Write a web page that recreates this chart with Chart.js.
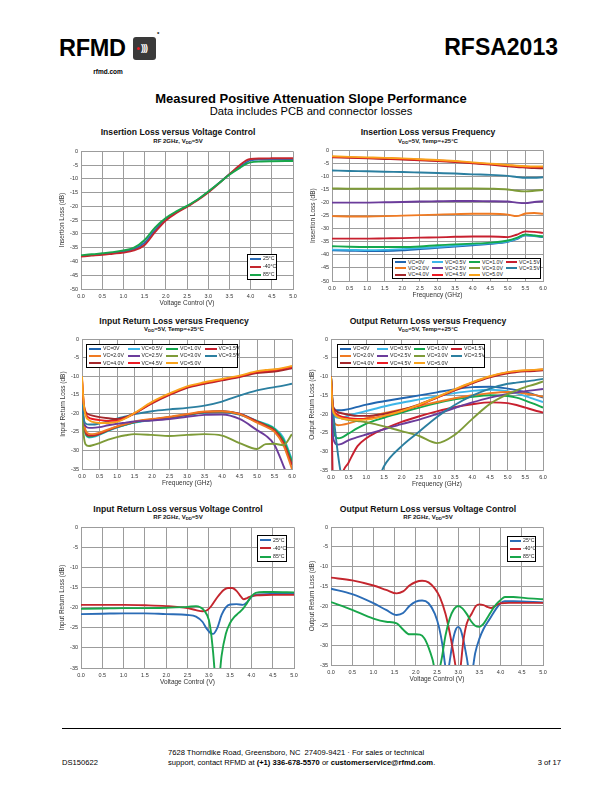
<!DOCTYPE html>
<html><head><meta charset="utf-8">
<script src="https://cdn.jsdelivr.net/npm/chart.js@4.4.1/dist/chart.umd.min.js"></script>
<style>
html,body{margin:0;padding:0}
body{width:612px;height:792px;position:relative;background:#fff;font-family:"Liberation Sans",Arial,sans-serif;color:#000;overflow:hidden}
.a{position:absolute;white-space:nowrap;line-height:1}
.c{position:absolute;white-space:nowrap;line-height:1;transform:translate(-50%,-50%)}
.ct{font-weight:bold;font-size:8.6px;color:#111}
.cs{font-weight:bold;font-size:6px;color:#111}
.cs sub{font-size:4.3px;vertical-align:-1px;line-height:0}
.leg{position:absolute;border:1px solid #000;background:#fff;box-sizing:border-box}
.li{position:absolute;font-size:5.2px;line-height:1;color:#222;white-space:nowrap;display:flex;align-items:center}
.li i{display:inline-block;height:2px;margin-right:2px}
canvas{position:absolute}
.ft{font-size:7.6px}
</style></head><body>

<div class="a" style="left:59px;top:37px;font-size:23.5px;font-weight:bold;letter-spacing:-0.3px">RFMD</div>
<div class="a" style="left:133px;top:37px;width:23px;height:23px;background:#3a3a3a;border-radius:3px;overflow:hidden">
  <div class="a" style="left:4px;top:10px;width:3px;height:3px;border-radius:50%;background:#e21b23"></div>
  <div class="a" style="left:8px;top:7px;font-size:9px;font-weight:bold;color:#fff;letter-spacing:-1px">)))</div>
</div>
<div class="a" style="left:157px;top:31px;font-size:6px;font-weight:bold">*</div>
<div class="c" style="left:108px;top:72px;font-size:6.5px;font-weight:bold">rfmd.com</div>
<div class="a" style="right:54px;top:36px;font-size:23px;font-weight:bold">RFSA2013</div>

<div class="c" style="left:311px;top:97.5px;font-size:13px;font-weight:bold">Measured Positive Attenuation Slope Performance</div>
<div class="c" style="left:311px;top:112px;font-size:11.2px">Data includes PCB and connector losses</div>

<div class="c ct" style="left:178px;top:132px">Insertion Loss versus Voltage Control</div>
<div class="c cs" style="left:178px;top:141px">RF 2GHz, V<sub>DD</sub>=5V</div>
<div class="c ct" style="left:428px;top:132px">Insertion Loss versus Frequency</div>
<div class="c cs" style="left:428px;top:141px">V<sub>DD</sub>=5V, Temp=+25°C</div>
<div class="c ct" style="left:174px;top:321px">Input Return Loss versus Frequency</div>
<div class="c cs" style="left:174px;top:329px">V<sub>DD</sub>=5V, Temp=+25°C</div>
<div class="c ct" style="left:428px;top:321px">Output Return Loss versus Frequency</div>
<div class="c cs" style="left:428px;top:329px">V<sub>DD</sub>=5V, Temp=+25°C</div>
<div class="c ct" style="left:178px;top:509px">Input Return Loss versus Voltage Control</div>
<div class="c cs" style="left:178px;top:517px">RF 2GHz, V<sub>DD</sub>=5V</div>
<div class="c ct" style="left:428px;top:509px">Output Return Loss versus Voltage Control</div>
<div class="c cs" style="left:428px;top:517px">RF 2GHz, V<sub>DD</sub>=5V</div>

<div class="a" style="left:62px;top:728px;width:499px;height:1.3px;background:#000"></div>
<div class="a ft" style="left:62px;top:759px">DS150622</div>
<div class="a ft" style="left:168px;top:749px">7628 Thorndike Road, Greensboro, NC&nbsp; 27409-9421 · For sales or technical</div>
<div class="a ft" style="left:168px;top:759px">support, contact RFMD at <b>(+1) 336-678-5570</b> or <b>customerservice@rfmd.com</b>.</div>
<div class="a ft" style="right:51px;top:759px">3 of 17</div>

<script>
// ---------- names / colours ----------
const tempNames = ['25°C', '-40°C', '85°C'];
const tempColors = ['#2b6cb6', '#c4262e', '#18a64a'];
const vcNames = ['VC=0V','VC=0.5V','VC=1.0V','VC=1.5V','VC=2.0V','VC=2.5V','VC=3.0V','VC=3.5V','VC=4.0V','VC=4.5V','VC=5.0V'];
const vcColors = ['#2166b0','#3db6e8','#15a84e','#c8202f','#f07a22','#6b3c9b','#7e9b38','#2b7fa0','#a3282c','#ec1c24','#f8a21c'];

// ---------- Chart 1: Insertion Loss vs Voltage Control ----------
const ilVc_x   = [0,0.25,0.5,0.75,1.0,1.25,1.5,1.75,2.0,2.25,2.5,2.75,3.0,3.25,3.5,3.75,3.9,4.0,4.25,4.5,5.0];
const ilVc_25  = [-38,-37.7,-37.3,-36.9,-36.4,-35.5,-33.2,-28.5,-24.7,-22.1,-20,-17.6,-14.8,-11.6,-8.3,-5.6,-4.0,-3.3,-3.0,-2.95,-2.9];
const ilVc_m40 = [-38.2,-37.9,-37.6,-37.2,-36.8,-36,-34,-29.3,-25.1,-22.4,-20.2,-17.8,-15,-11.7,-8.3,-5.0,-3.3,-2.8,-2.6,-2.55,-2.5];
const ilVc_85  = [-37.7,-37.4,-37,-36.6,-36,-35,-32.2,-27.6,-24.2,-21.8,-19.8,-17.5,-14.6,-11.6,-8.5,-6.0,-4.6,-4.0,-3.7,-3.6,-3.5];

// ---------- Chart 2: Insertion Loss vs Frequency ----------
const ilF_x  = [0,0.5,1,1.5,2,2.5,3,3.5,4,4.5,5,5.25,5.5,5.75,6];
const ilF_00 = [-38.3,-38.4,-38.5,-38.5,-38.3,-37.8,-37.3,-36.8,-36.3,-35.8,-35,-34,-32.5,-32.8,-33.2];
const ilF_05 = [-38,-38.1,-38.2,-38.1,-37.8,-37.4,-37,-36.5,-36,-35.5,-34.8,-33.8,-32.4,-32.7,-33];
const ilF_10 = [-36.7,-36.9,-37,-37,-37,-36.8,-36.3,-36,-35.7,-35.3,-34.5,-33.5,-32.2,-32.6,-33];
const ilF_15 = [-33.8,-33.8,-33.8,-33.7,-33.6,-33.4,-33.3,-33.1,-33,-33,-33.2,-32.3,-31,-31.2,-31.6];
const ilF_20 = [-25.2,-25.3,-25.3,-25.2,-25,-24.8,-24.6,-24.4,-24.3,-24.3,-24.6,-25.2,-24.2,-24,-24.3];
const ilF_25 = [-20,-20,-20,-19.9,-19.8,-19.6,-19.5,-19.4,-19.4,-19.5,-19.6,-20,-20.2,-19.8,-19.5];
const ilF_30 = [-14.6,-14.7,-14.7,-14.7,-14.7,-14.6,-14.6,-14.6,-14.6,-14.7,-15,-15.5,-15.7,-15.5,-15.2];
const ilF_35 = [-7.7,-7.9,-8,-8.2,-8.3,-8.5,-8.7,-8.9,-9.2,-9.4,-9.8,-10.2,-10.5,-10.5,-10.3];
const ilF_40 = [-2.7,-2.9,-3.1,-3.3,-3.5,-3.8,-4.1,-4.5,-5,-5.5,-6.1,-6.4,-6.6,-6.8,-6.9];
const ilF_45 = [-2.5,-2.7,-2.9,-3.1,-3.3,-3.6,-3.9,-4.3,-4.8,-5.3,-5.8,-6.1,-6.3,-6.4,-6.4];
const ilF_50 = [-2.3,-2.5,-2.7,-2.9,-3.1,-3.4,-3.7,-4.1,-4.6,-5.1,-5.6,-5.9,-6.1,-6.2,-6.2];

// ---------- Chart 3: Input Return Loss vs Frequency ----------
const rlF_x   = [0,0.05,0.1,0.2,0.3,0.5,0.75,1.0,1.25,1.5,2.0,2.5,3.0,3.5,4.0,4.5,5.0,5.25,5.5,5.75,6.0];
const irlF_00 = [-17,-22.5,-25,-26,-26,-25.5,-24.5,-23.7,-23,-22.4,-21.7,-21.1,-20.4,-19.8,-19.6,-20.3,-22.3,-23.2,-24.5,-27.5,-33.5];
const irlF_05 = [-17,-23,-25.5,-26.5,-26.4,-25.8,-24.7,-23.8,-23.1,-22.5,-21.8,-21.1,-20.4,-19.7,-19.5,-20.1,-22,-22.8,-24,-26.5,-32.5];
const irlF_10 = [-17,-22.8,-25.3,-26.3,-26.2,-25.6,-24.6,-23.7,-23,-22.4,-21.7,-21.1,-20.4,-19.7,-19.5,-20.2,-22.1,-23,-24.2,-27,-33];
const irlF_15 = [-17,-22.5,-25,-26,-26,-25.5,-24.5,-23.6,-22.9,-22.3,-21.6,-21,-20.3,-19.6,-19.4,-20.1,-22.2,-23.3,-24.6,-27.8,-34];
const irlF_20 = [-16,-21.5,-24.5,-25.5,-25.6,-25.2,-24.3,-23.5,-22.8,-22.2,-21.5,-20.9,-20.2,-19.5,-19.4,-20.2,-22.5,-23.6,-25,-28.5,-35];
const irlF_25 = [-19,-22.5,-23.4,-23.9,-23.9,-23.7,-23.2,-22.8,-22.5,-22.2,-21.9,-21.5,-20.9,-20.4,-20.3,-21.5,-24.5,-26,-28.5,-34,-40];
const irlF_30 = [-20,-26,-28.3,-28.8,-28.6,-28,-27.1,-26.4,-25.9,-25.6,-25.8,-26.1,-25.8,-25.6,-26,-28,-29.6,-28.3,-28.2,-28.6,-25.6];
const irlF_35 = [-16,-21.5,-22.7,-23,-23,-22.7,-22.1,-21.4,-20.8,-20.2,-19.4,-18.9,-18.5,-17.9,-16.8,-15.2,-13.8,-13.3,-12.9,-12.5,-12];
const irlF_40 = [-11,-17.5,-19.5,-20.3,-20.6,-21,-21.3,-21.5,-21,-20,-17.3,-15,-13.1,-12,-11.1,-10.2,-9.1,-8.9,-8.7,-8.3,-7.8];
const irlF_45 = [-10.5,-17.5,-20,-21.2,-21.5,-21.8,-22,-22,-21.2,-20,-17.1,-14.8,-12.9,-11.8,-10.9,-10,-8.8,-8.5,-8.3,-7.9,-7.5];
const irlF_50 = [-10,-17.5,-20.5,-21.8,-22.3,-22.6,-22.6,-22.3,-21.3,-19.9,-16.9,-14.6,-12.7,-11.6,-10.7,-9.8,-8.6,-8.3,-8.1,-7.7,-7.2];

// ---------- Chart 4: Output Return Loss vs Frequency ----------
const orlF_00 = [-10,-17.5,-18.7,-19,-19,-18.7,-18.1,-17.5,-17,-16.6,-15.8,-15,-14.2,-13.4,-12.8,-12.7,-13.2,-13.6,-14.2,-14.8,-15.6];
const orlF_05 = [-10,-19,-20.7,-21,-21,-20.4,-19.8,-19.2,-18.6,-18,-17,-16.1,-15.2,-14.4,-13.8,-13.5,-13.9,-14.5,-15.2,-16,-16.8];
const orlF_10 = [-10,-22,-25.5,-26.5,-26.3,-25.2,-23.8,-22.6,-21.7,-21,-19.6,-18.3,-17.1,-16.1,-15.4,-15,-15.2,-15.6,-16.4,-17.3,-18.3];
const orlF_15 = [-12,-38,-45,-45,-37,-33,-28.6,-26.5,-25.1,-24,-22.1,-20.6,-19.3,-18.2,-17.4,-16.9,-17.1,-17.6,-18.3,-19,-19.6];
const orlF_20 = [-10,-20,-22.5,-23,-22.9,-22.5,-21.8,-21.1,-20.4,-19.8,-18.8,-17.8,-16.8,-15.8,-15,-14.4,-14.1,-14.2,-14.5,-14.9,-15.4];
const orlF_25 = [-10,-25,-27.5,-28.2,-28,-27,-26.2,-25.5,-24.8,-24.1,-22.7,-21.5,-20,-18.4,-16.9,-15.6,-14.6,-14.2,-13.9,-13.6,-13.3];
const orlF_30 = [-10,-18.5,-20,-20.8,-21.2,-21.6,-21.9,-22.2,-22.7,-23.3,-24.6,-25.9,-27.8,-25.6,-21.3,-17.3,-14.7,-13.7,-12.8,-12.1,-11.3];
const orlF_35 = [-10,-18,-23,-31,-37,-44,-46,-44,-40,-34,-28.6,-24.7,-20.8,-17.6,-15.1,-13.2,-11.9,-11.6,-11.3,-11,-10.6];
const orlF_40 = [-10,-17.5,-18.8,-19.5,-19.8,-20.2,-20.5,-20.5,-20.3,-20,-18.9,-17.4,-15.6,-13.7,-11.8,-10.2,-9.1,-8.8,-8.6,-8.5,-8.3];
const orlF_45 = [-10,-18,-19.5,-20.3,-20.7,-21.1,-21.3,-21.3,-21,-20.5,-19.2,-17.6,-15.6,-13.5,-11.6,-10,-8.9,-8.6,-8.4,-8.3,-8.1];
const orlF_50 = [-10,-18.5,-20,-20.8,-21.2,-21.5,-21.6,-21.5,-21.1,-20.5,-19.2,-17.5,-15.5,-13.4,-11.5,-9.9,-8.8,-8.5,-8.3,-8.2,-8];

// ---------- Chart 5: Input Return Loss vs Voltage Control ----------
const irlVc_x25  = [0,0.5,1.0,1.5,2.0,2.5,2.7,2.85,2.95,3.05,3.1,3.2,3.3,3.4,3.5,3.65,3.8,3.9,4.0,4.2,4.5,5.0];
const irlVc_25   = [-21.6,-21.5,-21.4,-21.4,-21.6,-21.8,-22.2,-23.5,-25.2,-26.4,-26.5,-25,-21.8,-19.9,-19.2,-19.1,-19.3,-18.6,-17.3,-16.7,-16.6,-16.5];
const irlVc_xm40 = [0,0.5,1.0,1.5,2.0,2.5,2.7,2.85,2.95,3.05,3.2,3.35,3.45,3.55,3.65,3.75,3.82,3.9,4.0,4.2,4.5,5.0];
const irlVc_m40  = [-19.3,-19.3,-19.3,-19.4,-19.6,-20.1,-20.6,-20.9,-20.7,-19.7,-17.4,-15.6,-15.1,-15.1,-15.8,-17.2,-17.9,-17.6,-17.1,-16.9,-16.8,-16.8];
const irlVc_x85  = [0,0.5,1.0,1.5,2.0,2.5,2.7,2.8,2.9,3.0,3.05,3.1,3.15,3.2,3.25,3.3,3.4,3.5,3.6,3.7,3.8,3.9,4.0,4.1,4.3,4.5,5.0];
const irlVc_85   = [-20.3,-20.2,-20.1,-20.1,-20,-19.8,-19.6,-19.9,-20.8,-23,-26,-31,-37,-39,-37,-32,-26.5,-23.8,-22.3,-21.3,-20.3,-18.8,-17.2,-16.3,-16.1,-16.1,-16.2];

// ---------- Chart 6: Output Return Loss vs Voltage Control ----------
const orlVc_x25  = [0,0.5,1.0,1.3,1.55,1.7,1.85,2.0,2.15,2.3,2.45,2.55,2.63,2.7,2.75,2.8,2.88,2.95,3.0,3.05,3.12,3.2,3.27,3.33,3.4,3.5,3.6,3.75,3.9,4.0,4.1,4.3,5.0];
const orlVc_25   = [-15.6,-17,-19.3,-21,-22.3,-21.8,-20,-18.9,-18.6,-19.3,-22,-25.5,-30,-35.5,-37,-34,-28.5,-25.8,-25.3,-25.8,-28.5,-33,-37,-36.5,-32,-28.3,-25.8,-23.2,-20.6,-19.3,-18.8,-18.8,-19.1];
const orlVc_xm40 = [0,0.5,1.0,1.3,1.55,1.7,1.85,2.0,2.15,2.3,2.45,2.57,2.7,2.8,2.88,2.95,3.0,3.05,3.12,3.2,3.32,3.42,3.5,3.6,3.7,3.78,3.9,4.0,4.2,5.0];
const orlVc_m40  = [-12.8,-13.5,-14.8,-15.9,-16.8,-16.3,-14.8,-13.9,-13.6,-14,-15.6,-17.8,-22,-26.8,-31.5,-36,-38,-36,-29,-24.5,-21.9,-20,-19.6,-19.8,-20.3,-20.5,-19.8,-19.3,-19.2,-19.2];
const orlVc_x85  = [0,0.5,1.0,1.3,1.55,1.7,1.85,2.0,2.1,2.2,2.3,2.4,2.47,2.52,2.6,2.7,2.8,2.9,3.0,3.1,3.2,3.3,3.4,3.5,3.6,3.7,3.8,3.9,4.0,4.1,4.3,4.6,5.0];
const orlVc_85   = [-19,-21,-23.2,-24,-24.4,-26,-27.2,-27.2,-27.3,-28.2,-30.5,-33.8,-37,-37,-34,-27.5,-23.2,-20.8,-20,-20.6,-22,-23.8,-25,-25.3,-24.5,-22.8,-21,-19.5,-18.5,-17.7,-17.7,-18,-18.3];

// ---------- helpers ----------
const FF = '"Liberation Sans", Arial, sans-serif';
const GC = '#9c9c9c';
const YW = 24, PT = 6, PR = 10, XH = 20;

function plotChart(area, xMax, yMin, xTitle, yTitle, series) {
  const w = area.r - area.l + YW + PR, h = area.b - area.t + PT + XH;
  const cv = document.createElement('canvas');
  cv.width = w; cv.height = h;
  cv.style.left = (area.l - YW) + 'px'; cv.style.top = (area.t - PT) + 'px';
  cv.style.width = w + 'px'; cv.style.height = h + 'px';
  document.body.appendChild(cv);
  const n = series.length;
  const tickFont = {size: 5.5, family: FF};
  const titleFont = {size: 6.5, family: FF};
  new Chart(cv, {
    type: 'line',
    data: {datasets: series.map((s, i) => ({
      label: s.name,
      data: s.x.map((x, j) => ({x: x, y: s.y[j]})),
      borderColor: s.color, backgroundColor: s.color,
      borderWidth: 1.9, pointRadius: 0, fill: false,
      cubicInterpolationMode: 'monotone', order: n - i
    }))},
    options: {
      responsive: false, animation: false, devicePixelRatio: 1, events: [],
      layout: {padding: {top: PT, right: PR, left: 0, bottom: 0}},
      plugins: {legend: {display: false}, tooltip: {enabled: false}},
      scales: {
        x: {type: 'linear', min: 0, max: xMax,
            afterFit: s => { s.height = XH; },
            ticks: {stepSize: 0.5, padding: 4, font: tickFont, color: '#333', maxRotation: 0, autoSkip: false,
                    callback: v => Number(v).toFixed(1)},
            grid: {color: GC, lineWidth: 1, drawTicks: false}, border: {color: GC},
            title: {display: true, text: xTitle, font: titleFont, color: '#333', padding: {top: 0, bottom: 2}}},
        y: {type: 'linear', min: yMin, max: 0,
            afterFit: s => { s.width = YW; },
            ticks: {stepSize: 5, padding: 3, font: tickFont, color: '#333', autoSkip: false,
                    callback: v => String(Math.round(v))},
            grid: {color: GC, lineWidth: 1, drawTicks: false}, border: {color: GC},
            title: {display: true, text: yTitle, font: titleFont, color: '#333', padding: {top: 1, bottom: 0}}}
      }
    }
  });
}

function legend(box, names, colors, cols, colW, lineW) {
  const d = document.createElement('div');
  d.className = 'leg';
  d.style.left = box.l + 'px'; d.style.top = box.t + 'px';
  d.style.width = box.w + 'px'; d.style.height = box.h + 'px';
  const rows = Math.ceil(names.length / cols);
  const rh = (box.h - 2) / rows;
  names.forEach((nm, i) => {
    const r = Math.floor(i / cols), c = i % cols;
    const it = document.createElement('div');
    it.className = 'li';
    it.style.left = (2 + c * colW) + 'px';
    it.style.top = (r * rh) + 'px';
    it.style.height = rh + 'px';
    it.innerHTML = '<i style="width:' + lineW + 'px;background:' + colors[i] + '"></i>' + nm;
    d.appendChild(it);
  });
  document.body.appendChild(d);
}

const mk = (xs, ys, names, colors) => ys.map((y, i) => ({x: Array.isArray(xs[0]) ? xs[i] : xs, y: y, name: names[i], color: colors[i]}));

// Chart 1
plotChart({l: 81, r: 293, t: 151, b: 289}, 5, -50, 'Voltage Control (V)', 'Insertion Loss (dB)',
  mk(ilVc_x, [ilVc_25, ilVc_m40, ilVc_85], tempNames, tempColors));
legend({l: 247, t: 254, w: 30, h: 26}, tempNames, tempColors, 1, 0, 11);

// Chart 2
plotChart({l: 332, r: 543, t: 150, b: 281}, 6, -50, 'Frequency (GHz)', 'Insertion Loss (dB)',
  mk(ilF_x, [ilF_00, ilF_05, ilF_10, ilF_15, ilF_20, ilF_25, ilF_30, ilF_35, ilF_40, ilF_45, ilF_50], vcNames, vcColors));
legend({l: 392, t: 258, w: 149, h: 21}, vcNames, vcColors, 4, 37, 11);

// Chart 3
plotChart({l: 82, r: 292, t: 339, b: 469}, 6, -35, 'Frequency (GHz)', 'Input Return Loss (dB)',
  mk(rlF_x, [irlF_00, irlF_05, irlF_10, irlF_15, irlF_20, irlF_25, irlF_30, irlF_35, irlF_40, irlF_45, irlF_50], vcNames, vcColors));
legend({l: 86, t: 344, w: 152, h: 24}, vcNames, vcColors, 4, 38.5, 12);

// Chart 4
plotChart({l: 331, r: 543, t: 339, b: 470}, 6, -35, 'Frequency (GHz)', 'Output Return Loss (dB)',
  mk(rlF_x, [orlF_00, orlF_05, orlF_10, orlF_15, orlF_20, orlF_25, orlF_30, orlF_35, orlF_40, orlF_45, orlF_50], vcNames, vcColors));
legend({l: 337, t: 344, w: 148, h: 24}, vcNames, vcColors, 4, 37, 11);

// Chart 5
plotChart({l: 81, r: 294, t: 527, b: 668}, 5, -35, 'Voltage Control (V)', 'Input Return Loss (dB)',
  mk([irlVc_x25, irlVc_xm40, irlVc_x85], [irlVc_25, irlVc_m40, irlVc_85], tempNames, tempColors));
legend({l: 257, t: 535, w: 30, h: 27}, tempNames, tempColors, 1, 0, 11);

// Chart 6
plotChart({l: 331, r: 543, t: 527, b: 665}, 5, -35, 'Voltage Control (V)', 'Output Return Loss (dB)',
  mk([orlVc_x25, orlVc_xm40, orlVc_x85], [orlVc_25, orlVc_m40, orlVc_85], tempNames, tempColors));
legend({l: 507, t: 536, w: 29, h: 26}, tempNames, tempColors, 1, 0, 11);
</script>
</body></html>
